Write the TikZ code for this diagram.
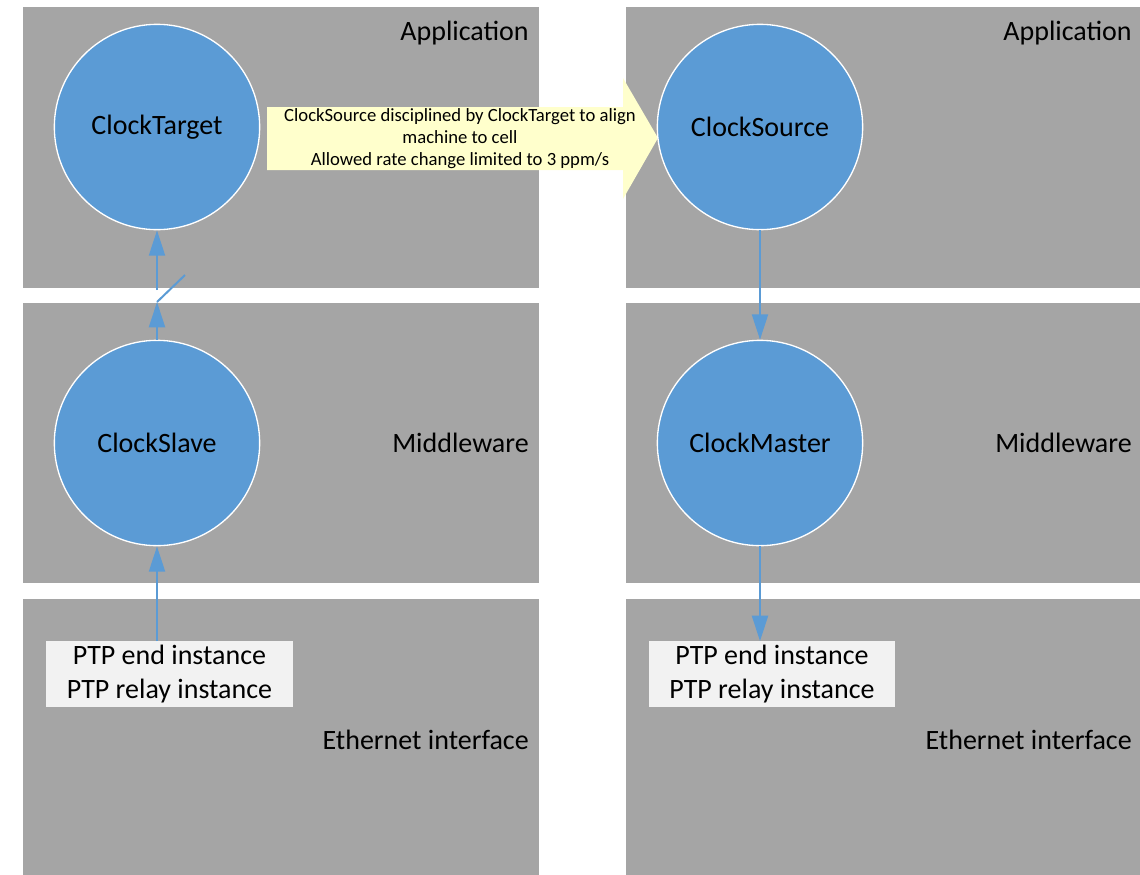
\documentclass[tikz,border=0pt]{standalone}
\usepackage{fontspec}
\setmainfont{Carlito}
\usetikzlibrary{arrows.meta}
\definecolor{panelgray}{HTML}{A5A5A5}
\definecolor{clockblue}{HTML}{5B9BD5}
\definecolor{noteyellow}{HTML}{FFFFCC}
\definecolor{ptpgray}{HTML}{F2F2F2}

\begin{document}
\begin{tikzpicture}
  [x=0.75pt,y=-0.75pt,
   layer/.style={fill=panelgray},
   layername/.style={anchor=east,inner sep=0pt,font=\fontsize{21}{25}\selectfont},
   clock/.style={circle,fill=clockblue,draw=white,line width=1pt,minimum size=154pt,inner sep=0pt,font=\fontsize{21}{25}\selectfont},
   ptpbox/.style={fill=ptpgray,minimum width=185pt,minimum height=49pt,inner sep=0pt,align=center,font=\fontsize{21}{25.5}\selectfont},
   link/.style={draw=clockblue,line width=1.5pt,-{Triangle[length=19pt,width=12pt]}}]
  \useasboundingbox (0,0) rectangle (1140,875);

  % layers
  \foreach \xa/\xb/\xl in {23/539/529, 626/1140/1132}{
    \fill[layer] (\xa,7) rectangle (\xb,288);
    \fill[layer] (\xa,303) rectangle (\xb,583);
    \fill[layer] (\xa,599) rectangle (\xb,875);
    \node[layername] at (\xl,33) {Application};
    \node[layername] at (\xl,443) {Middleware};
    \node[layername] at (\xl,740) {Ethernet interface};
  }

  % note arrow
  \fill[noteyellow] (267,107) -- (623,107) -- (623,78) -- (658,138)
    -- (623,199) -- (623,170) -- (267,170) -- cycle;
  \node[align=center,inner sep=0pt,font=\fontsize{14}{16.5}\selectfont] (note) at (460,139)
    {ClockSource disciplined by ClockTarget to align\\machine to cell\\Allowed rate change limited to 3 ppm/s};

  \node[clock] (target) at (157,127) {ClockTarget};
  \node[clock] (slave)  at (157,443) {ClockSlave};
  \node[clock] (source) at (760,127) {ClockSource};
  \node[clock] (master) at (760,443) {ClockMaster};

  \node[ptpbox] (ptpL) at (169.5,674) {PTP end instance\\PTP relay instance};
  \node[ptpbox] (ptpR) at (772,674) {PTP end instance\\PTP relay instance};

  \coordinate (brkA) at (157,302);
  \coordinate (brkB) at (157,290);
  \coordinate (brkC) at (185,275);

  \draw[link] (ptpL.north -| slave) -- (slave.south);
  \draw[link] (slave.north) -- (brkA);
  \draw[link] (brkB) -- (target.south);
  \draw[draw=clockblue,line width=1.5pt] (brkA) -- (brkC);

  \foreach \from/\to in {source.south/master.north}
    \draw[link] (\from) -- (\to);
  \draw[link] (master.south) -- (ptpR.north -| master);

\end{tikzpicture}
\end{document}
